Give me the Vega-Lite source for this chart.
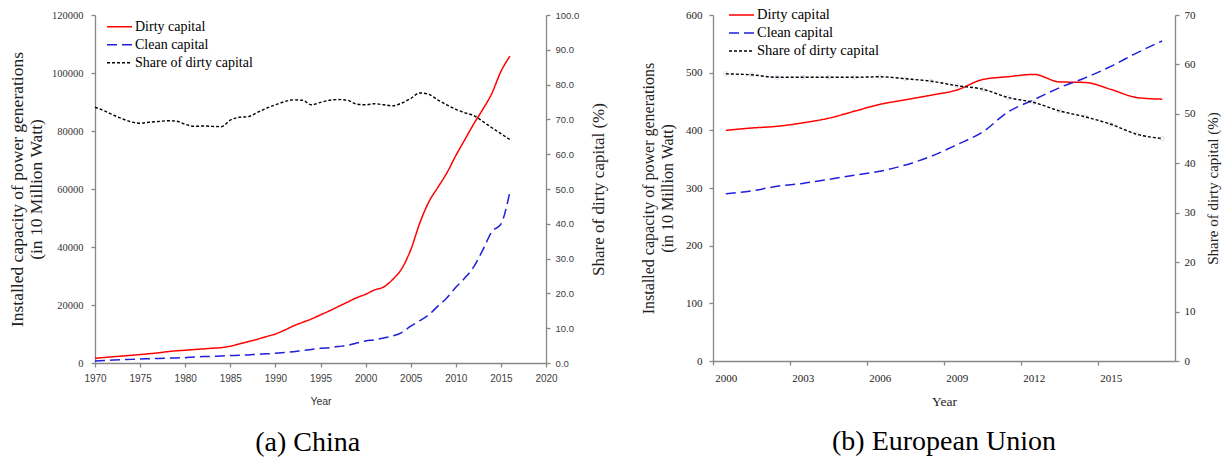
{
  "$schema": "https://vega.github.io/schema/vega-lite/v6.json",
  "background": "white",
  "padding": {"left": 8, "top": 6, "right": 2, "bottom": 2},
  "spacing": 33,
  "config": {
    "view": {"stroke": null},
    "font": "Liberation Serif",
    "axis": {"domainColor": "#878787", "tickColor": "#878787", "domainWidth": 1.3, "tickWidth": 1.3, "grid": false, "titleFontWeight": "normal", "labelColor": "#333333", "titleColor": "#222222", "labelFlush": false, "labelOverlap": false}
  },
  "datasets": {
    "china": [
      {"year": 1970, "dirty": 1600, "clean": 700, "share": 73.5},
      {"year": 1971, "dirty": 1900, "clean": 850, "share": 72.5},
      {"year": 1972, "dirty": 2150, "clean": 1000, "share": 71.3},
      {"year": 1973, "dirty": 2400, "clean": 1150, "share": 70.2},
      {"year": 1974, "dirty": 2650, "clean": 1250, "share": 69.3},
      {"year": 1975, "dirty": 2900, "clean": 1380, "share": 68.9},
      {"year": 1976, "dirty": 3200, "clean": 1480, "share": 69.2},
      {"year": 1977, "dirty": 3500, "clean": 1580, "share": 69.4},
      {"year": 1978, "dirty": 3900, "clean": 1680, "share": 69.6},
      {"year": 1979, "dirty": 4200, "clean": 1760, "share": 69.5},
      {"year": 1980, "dirty": 4400, "clean": 1850, "share": 68.6},
      {"year": 1981, "dirty": 4650, "clean": 2100, "share": 68.0},
      {"year": 1982, "dirty": 4850, "clean": 2200, "share": 68.1},
      {"year": 1983, "dirty": 5100, "clean": 2300, "share": 68.0},
      {"year": 1984, "dirty": 5300, "clean": 2400, "share": 67.9},
      {"year": 1985, "dirty": 5800, "clean": 2550, "share": 69.8},
      {"year": 1986, "dirty": 6600, "clean": 2650, "share": 70.6},
      {"year": 1987, "dirty": 7400, "clean": 2800, "share": 70.8},
      {"year": 1988, "dirty": 8200, "clean": 3000, "share": 72.0},
      {"year": 1989, "dirty": 9100, "clean": 3150, "share": 73.2},
      {"year": 1990, "dirty": 10000, "clean": 3350, "share": 74.2},
      {"year": 1991, "dirty": 11300, "clean": 3600, "share": 75.1},
      {"year": 1992, "dirty": 12800, "clean": 3900, "share": 75.6},
      {"year": 1993, "dirty": 14000, "clean": 4300, "share": 75.5},
      {"year": 1994, "dirty": 15200, "clean": 4650, "share": 74.2},
      {"year": 1995, "dirty": 16600, "clean": 5050, "share": 74.9},
      {"year": 1996, "dirty": 18000, "clean": 5300, "share": 75.5},
      {"year": 1997, "dirty": 19500, "clean": 5700, "share": 75.7},
      {"year": 1998, "dirty": 21000, "clean": 6100, "share": 75.5},
      {"year": 1999, "dirty": 22500, "clean": 6900, "share": 74.4},
      {"year": 2000, "dirty": 23700, "clean": 7600, "share": 74.2},
      {"year": 2001, "dirty": 25200, "clean": 8000, "share": 74.5},
      {"year": 2002, "dirty": 26200, "clean": 8600, "share": 74.2},
      {"year": 2003, "dirty": 28800, "clean": 9300, "share": 73.9},
      {"year": 2004, "dirty": 32500, "clean": 10500, "share": 74.7},
      {"year": 2005, "dirty": 39000, "clean": 12700, "share": 76.0},
      {"year": 2006, "dirty": 48200, "clean": 14600, "share": 77.6},
      {"year": 2007, "dirty": 55500, "clean": 16600, "share": 77.2},
      {"year": 2008, "dirty": 60500, "clean": 19600, "share": 75.6},
      {"year": 2009, "dirty": 65500, "clean": 22400, "share": 74.2},
      {"year": 2010, "dirty": 71500, "clean": 26100, "share": 72.9},
      {"year": 2011, "dirty": 77000, "clean": 29300, "share": 71.9},
      {"year": 2012, "dirty": 82500, "clean": 33200, "share": 71.1},
      {"year": 2013, "dirty": 87500, "clean": 39000, "share": 69.4},
      {"year": 2014, "dirty": 93000, "clean": 45300, "share": 67.6},
      {"year": 2015, "dirty": 100500, "clean": 47900, "share": 65.9},
      {"year": 2016, "dirty": 105800, "clean": 59000, "share": 64.2}
    ],
    "eu": [
      {"year": 2000, "dirty": 400, "clean": 290, "share": 58.1},
      {"year": 2001, "dirty": 404, "clean": 295, "share": 57.9},
      {"year": 2002, "dirty": 407, "clean": 303, "share": 57.4},
      {"year": 2003, "dirty": 413, "clean": 308, "share": 57.4},
      {"year": 2004, "dirty": 421, "clean": 315, "share": 57.4},
      {"year": 2005, "dirty": 433, "clean": 322, "share": 57.4},
      {"year": 2006, "dirty": 445, "clean": 329, "share": 57.5},
      {"year": 2007, "dirty": 453, "clean": 340, "share": 57.1},
      {"year": 2008, "dirty": 461, "clean": 355, "share": 56.6},
      {"year": 2009, "dirty": 470, "clean": 375, "share": 55.7},
      {"year": 2010, "dirty": 488, "clean": 397, "share": 55.0},
      {"year": 2011, "dirty": 493, "clean": 432, "share": 53.3},
      {"year": 2012, "dirty": 497, "clean": 453, "share": 52.3},
      {"year": 2013, "dirty": 484, "clean": 474, "share": 50.6},
      {"year": 2014, "dirty": 483, "clean": 491, "share": 49.4},
      {"year": 2015, "dirty": 471, "clean": 511, "share": 47.9},
      {"year": 2016, "dirty": 457, "clean": 534, "share": 45.9},
      {"year": 2017, "dirty": 454, "clean": 555, "share": 45.0}
    ]
  },
  "resolve": {
    "scale": {"color": "independent", "strokeDash": "independent"},
    "legend": {"color": "independent", "strokeDash": "independent"}
  },
  "hconcat": [
    {
      "width": 451,
      "height": 348,
      "data": {"name": "china"},
      "title": {"text": "(a) China", "orient": "bottom", "font": "Liberation Serif", "fontSize": 28, "fontWeight": "normal", "color": "#000000", "offset": 22, "frame": "bounds"},
      "encoding": {
        "x": {"field": "year", "type": "quantitative", "scale": {"domain": [1970, 2020], "nice": false, "zero": false},
          "axis": {"values": [1970, 1975, 1980, 1985, 1990, 1995, 2000, 2005, 2010, 2015, 2020], "format": "d", "labelFont": "Liberation Sans", "labelFontSize": 10, "labelColor": "#404040", "tickSize": 4, "labelPadding": 6, "title": "Year", "titleFont": "Liberation Sans", "titleFontSize": 10.5, "titleColor": "#333333", "titlePadding": 13}}
      },
      "layer": [
        {
          "layer": [
            {
              "mark": {"type": "line", "strokeWidth": 1.5, "interpolate": "monotone"},
              "encoding": {
                "y": {"field": "dirty", "type": "quantitative", "scale": {"domain": [0, 120000], "nice": false},
                  "axis": {"values": [0, 20000, 40000, 60000, 80000, 100000, 120000], "format": "d", "labelFont": "Liberation Serif", "labelFontSize": 10.5, "tickSize": 4, "labelPadding": 8, "title": ["Installed capacity of power generations", "(in 10 Million Watt)"], "titleFont": "Liberation Serif", "titleFontSize": 17.5, "titleLineHeight": 19, "titlePadding": 6}},
                "color": {"datum": "Dirty capital", "type": "nominal", "scale": {"domain": ["Dirty capital", "Clean capital", "Share of dirty capital"], "range": ["#ff0000", "#1f1fdd", "#000000"]},
                  "legend": {"orient": "none", "legendX": 11, "legendY": 3, "title": null, "symbolType": "stroke", "symbolSize": 625, "symbolStrokeWidth": 1.5, "labelFont": "Liberation Serif", "labelFontSize": 14, "labelColor": "#000000", "labelOffset": 2, "rowPadding": 0, "clipHeight": 17.3, "padding": 0}},
                "strokeDash": {"datum": "Dirty capital", "type": "nominal", "scale": {"domain": ["Dirty capital", "Clean capital", "Share of dirty capital"], "range": [[1, 0], [10, 5], [3, 2]]},
                  "legend": {"orient": "none", "legendX": 11, "legendY": 3, "title": null, "symbolType": "stroke", "symbolSize": 625, "symbolStrokeWidth": 1.5, "labelFont": "Liberation Serif", "labelFontSize": 14, "labelColor": "#000000", "labelOffset": 2, "rowPadding": 0, "clipHeight": 17.3, "padding": 0}}
              }
            },
            {
              "mark": {"type": "line", "strokeWidth": 1.5, "interpolate": "monotone"},
              "encoding": {
                "y": {"field": "clean", "type": "quantitative", "scale": {"domain": [0, 120000], "nice": false},
                  "axis": {"values": [0, 20000, 40000, 60000, 80000, 100000, 120000], "format": "d", "labelFont": "Liberation Serif", "labelFontSize": 10.5, "tickSize": 4, "labelPadding": 8, "title": ["Installed capacity of power generations", "(in 10 Million Watt)"], "titleFont": "Liberation Serif", "titleFontSize": 17.5, "titleLineHeight": 19, "titlePadding": 6}},
                "color": {"datum": "Clean capital", "type": "nominal"},
                "strokeDash": {"datum": "Clean capital", "type": "nominal"}
              }
            }
          ]
        },
        {
          "mark": {"type": "line", "strokeWidth": 1.4, "interpolate": "monotone"},
          "encoding": {
            "y": {"field": "share", "type": "quantitative", "scale": {"domain": [0, 100], "nice": false},
              "axis": {"orient": "right", "values": [0, 10, 20, 30, 40, 50, 60, 70, 80, 90, 100], "format": ".1f", "labelFont": "Liberation Sans", "labelFontSize": 9.5, "labelColor": "#404040", "tickSize": 4, "labelPadding": 5, "title": "Share of dirty capital (%)", "titleFont": "Liberation Serif", "titleFontSize": 17, "titleAngle": 270, "titleBaseline": "top", "titlePadding": 12}},
            "color": {"datum": "Share of dirty capital", "type": "nominal"},
            "strokeDash": {"datum": "Share of dirty capital", "type": "nominal"}
          }
        }
      ],
      "resolve": {"scale": {"y": "independent"}}
    },
    {
      "width": 462,
      "height": 346,
      "data": {"name": "eu"},
      "title": {"text": "(b) European Union", "orient": "bottom", "font": "Liberation Serif", "fontSize": 28, "fontWeight": "normal", "color": "#000000", "offset": 20, "frame": "group"},
      "encoding": {
        "x": {"field": "year", "type": "quantitative", "scale": {"domain": [1999.5, 2017.5], "nice": false, "zero": false},
          "axis": {"values": [1999.5, 2002.5, 2005.5, 2008.5, 2011.5, 2014.5], "labelExpr": "format(datum.value + 0.5, 'd')", "labelOffset": 12.83, "labelFont": "Liberation Serif", "labelFontSize": 11, "labelColor": "#222222", "tickSize": 4, "labelPadding": 7, "title": "Year", "titleFont": "Liberation Serif", "titleFontSize": 13.5, "titlePadding": 11}}
      },
      "layer": [
        {
          "layer": [
            {
              "mark": {"type": "line", "strokeWidth": 1.5, "interpolate": "monotone"},
              "encoding": {
                "y": {"field": "dirty", "type": "quantitative", "scale": {"domain": [0, 600], "nice": false},
                  "axis": {"values": [0, 100, 200, 300, 400, 500, 600], "format": "d", "labelFont": "Liberation Serif", "labelFontSize": 11, "labelColor": "#222222", "tickSize": 4, "labelPadding": 7, "title": ["Installed capacity of power generations", "(in 10 Million Watt)"], "titleFont": "Liberation Serif", "titleFontSize": 16, "titleLineHeight": 19.5, "titlePadding": 10}},
                "color": {"datum": "Dirty capital", "type": "nominal", "scale": {"domain": ["Dirty capital", "Clean capital", "Share of dirty capital"], "range": ["#ff0000", "#1f1fdd", "#000000"]},
                  "legend": {"orient": "none", "legendX": 15, "legendY": -8.7, "title": null, "symbolType": "stroke", "symbolSize": 625, "symbolStrokeWidth": 1.5, "labelFont": "Liberation Serif", "labelFontSize": 14.5, "labelColor": "#000000", "labelOffset": 2, "rowPadding": 0, "clipHeight": 17.5, "padding": 0}},
                "strokeDash": {"datum": "Dirty capital", "type": "nominal", "scale": {"domain": ["Dirty capital", "Clean capital", "Share of dirty capital"], "range": [[1, 0], [10, 5], [3, 2]]},
                  "legend": {"orient": "none", "legendX": 15, "legendY": -8.7, "title": null, "symbolType": "stroke", "symbolSize": 625, "symbolStrokeWidth": 1.5, "labelFont": "Liberation Serif", "labelFontSize": 14.5, "labelColor": "#000000", "labelOffset": 2, "rowPadding": 0, "clipHeight": 17.5, "padding": 0}}
              }
            },
            {
              "mark": {"type": "line", "strokeWidth": 1.5, "interpolate": "monotone"},
              "encoding": {
                "y": {"field": "clean", "type": "quantitative", "scale": {"domain": [0, 600], "nice": false},
                  "axis": {"values": [0, 100, 200, 300, 400, 500, 600], "format": "d", "labelFont": "Liberation Serif", "labelFontSize": 11, "labelColor": "#222222", "tickSize": 4, "labelPadding": 7, "title": ["Installed capacity of power generations", "(in 10 Million Watt)"], "titleFont": "Liberation Serif", "titleFontSize": 16, "titleLineHeight": 19.5, "titlePadding": 10}},
                "color": {"datum": "Clean capital", "type": "nominal"},
                "strokeDash": {"datum": "Clean capital", "type": "nominal"}
              }
            }
          ]
        },
        {
          "layer": [
            {
              "mark": {"type": "point", "shape": "circle", "size": 18, "filled": false, "stroke": "#c6d0e8", "strokeWidth": 1},
              "encoding": {
                "y": {"field": "share", "type": "quantitative", "scale": {"domain": [0, 70], "nice": false},
                  "axis": {"orient": "right", "values": [0, 10, 20, 30, 40, 50, 60, 70], "format": "d", "labelFont": "Liberation Serif", "labelFontSize": 11, "labelColor": "#222222", "tickSize": 4, "labelPadding": 5, "title": "Share of dirty capital (%)", "titleFont": "Liberation Serif", "titleFontSize": 15, "titleAngle": 270, "titleBaseline": "top", "titlePadding": 10}}
              }
            },
            {
              "mark": {"type": "line", "strokeWidth": 1.4, "interpolate": "monotone"},
              "encoding": {
                "y": {"field": "share", "type": "quantitative", "scale": {"domain": [0, 70], "nice": false},
                  "axis": {"orient": "right", "values": [0, 10, 20, 30, 40, 50, 60, 70], "format": "d", "labelFont": "Liberation Serif", "labelFontSize": 11, "labelColor": "#222222", "tickSize": 4, "labelPadding": 5, "title": "Share of dirty capital (%)", "titleFont": "Liberation Serif", "titleFontSize": 15, "titleAngle": 270, "titleBaseline": "top", "titlePadding": 10}},
                "color": {"datum": "Share of dirty capital", "type": "nominal"},
                "strokeDash": {"datum": "Share of dirty capital", "type": "nominal"}
              }
            }
          ]
        }
      ],
      "resolve": {"scale": {"y": "independent"}}
    }
  ]
}
